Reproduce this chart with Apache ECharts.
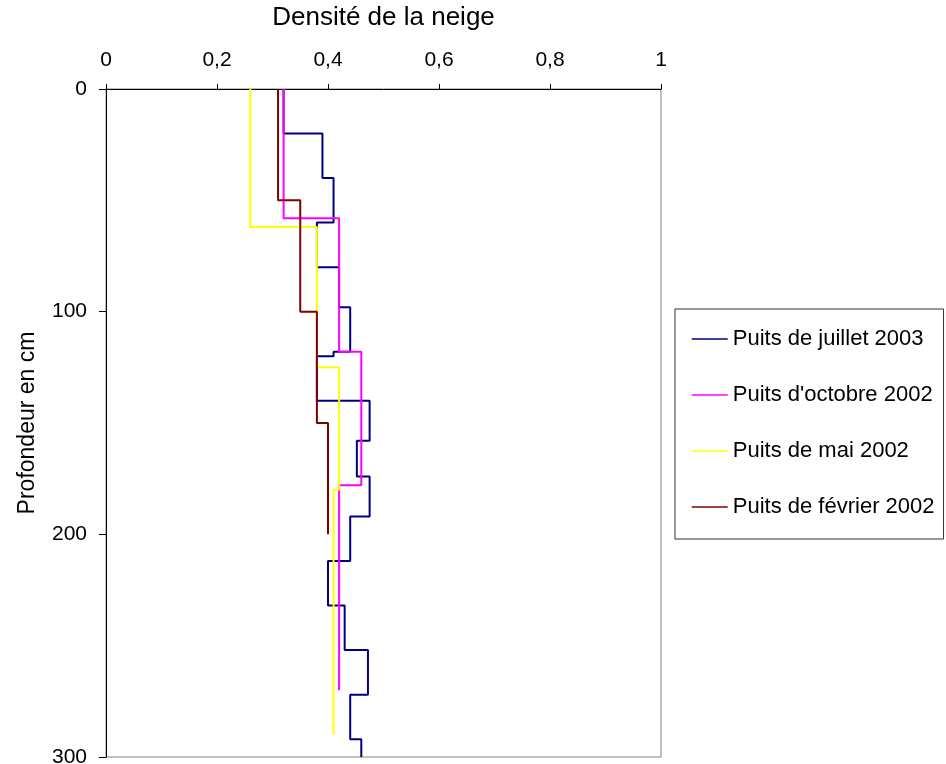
<!DOCTYPE html>
<html>
<head>
<meta charset="utf-8">
<title>Densité de la neige</title>
<script src="https://cdn.jsdelivr.net/npm/echarts@6/dist/echarts.min.js"></script>
<style>
html, body { margin: 0; padding: 0; background: #fff; }
#main { width: 946px; height: 764px; }
</style>
</head>
<body>
<div id="main"></div>
<script>
// profondeurs des limites de couches (cm) et densité de chaque couche
var depthJuillet2003 = [0, 20, 40, 60, 80, 98, 118, 120, 140, 158, 174, 192, 212, 232, 252, 272, 292, 300];
var densJuillet2003 = [0.32, 0.39, 0.41, 0.38, 0.42, 0.44, 0.41, 0.38, 0.475, 0.452, 0.475, 0.44, 0.40, 0.43, 0.472, 0.44, 0.46];

var depthOctobre2002 = [0, 58, 118, 178, 270];
var densOctobre2002 = [0.32, 0.42, 0.46, 0.42];

var depthMai2002 = [0, 62, 125, 180, 290];
var densMai2002 = [0.26, 0.38, 0.42, 0.41];

var depthFevrier2002 = [0, 50, 100, 150, 200];
var densFevrier2002 = [0.31, 0.35, 0.38, 0.40];

var seriesNames = ['Puits de juillet 2003', "Puits d'octobre 2002", 'Puits de mai 2002', 'Puits de février 2002'];
var seriesColors = ['#000080', '#FF00FF', '#FFFF00', '#800000'];

// transforme les couches en escalier (densité, profondeur)
function toSteps(depths, dens) {
    var pts = [];
    for (var i = 0; i < dens.length; i++) {
        pts.push([dens[i], depths[i]]);
        pts.push([dens[i], depths[i + 1]]);
    }
    return pts;
}

var allData = [
    toSteps(depthJuillet2003, densJuillet2003),
    toSteps(depthOctobre2002, densOctobre2002),
    toSteps(depthMai2002, densMai2002),
    toSteps(depthFevrier2002, densFevrier2002)
];

var series = [];
for (var k = 0; k < allData.length; k++) {
    series.push({
        name: seriesNames[k],
        type: 'line',
        data: allData[k],
        showSymbol: false,
        symbol: 'none',
        lineStyle: { color: seriesColors[k], width: 2 },
        itemStyle: { color: seriesColors[k] }
    });
}

var font = 'Liberation Sans, Arial, sans-serif';

var option = {
    animation: false,
    textStyle: { fontFamily: font },
    grid: {
        left: 106,
        top: 89,
        width: 555,
        height: 668,
        outerBoundsMode: 'none',
        containLabel: false,
        show: true,
        borderColor: '#808080',
        borderWidth: 1
    },
    legend: {
        data: seriesNames,
        orient: 'vertical',
        left: 675,
        top: 309,
        itemWidth: 36,
        itemHeight: 20,
        itemGap: 34,
        padding: [19, 9, 21, 16],
        borderColor: '#333',
        borderWidth: 1,
        itemStyle: { opacity: 0, borderWidth: 0 },
        lineStyle: { width: 1.5 },
        textStyle: { fontSize: 22, color: '#000', fontFamily: font, lineHeight: 20 }
    },
    xAxis: {
        type: 'value',
        position: 'top',
        min: 0,
        max: 1,
        interval: 0.2,
        name: 'Densité de la neige',
        nameLocation: 'middle',
        nameGap: 58,
        nameTextStyle: { fontSize: 26, color: '#000', fontFamily: font },
        axisLine: { show: true, lineStyle: { color: '#000', width: 1 } },
        axisTick: { show: true, length: 5, lineStyle: { color: '#000' } },
        axisLabel: {
            fontSize: 21,
            color: '#000',
            margin: 18,
            formatter: function (v) { return String(Math.round(v * 10) / 10).replace('.', ','); }
        },
        splitLine: { show: false }
    },
    yAxis: {
        type: 'value',
        inverse: true,
        min: 0,
        max: 300,
        interval: 100,
        name: 'Profondeur en cm',
        nameLocation: 'middle',
        nameGap: 67,
        nameRotate: 90,
        nameTextStyle: { fontSize: 23, color: '#000', fontFamily: font },
        axisLine: { show: true, lineStyle: { color: '#000', width: 1 } },
        axisTick: { show: true, length: 7, lineStyle: { color: '#000' } },
        axisLabel: { fontSize: 21, color: '#000', margin: 19 },
        splitLine: { show: false }
    },
    series: series
};

var myChart = echarts.init(document.getElementById('main'));
myChart.setOption(option);
</script>
</body>
</html>
